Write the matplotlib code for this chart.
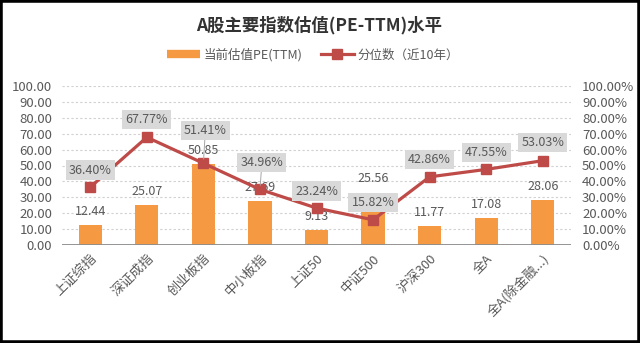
import matplotlib
matplotlib.use("Agg")
import matplotlib.pyplot as plt
from matplotlib.patches import Rectangle
from matplotlib.lines import Line2D
from matplotlib.ticker import FuncFormatter, MultipleLocator

plt.rcParams['font.family'] = ['Noto Sans CJK SC', 'DejaVu Sans']

categories = ['上证综指', '深证成指', '创业板指', '中小板指', '上证50', '中证500', '沪深300', '全A', '全A(除金融...)']
pe_values = [12.44, 25.07, 50.85, 27.69, 9.13, 25.56, 11.77, 17.08, 28.06]
pct_values = [36.40, 67.77, 51.41, 34.96, 23.24, 15.82, 42.86, 47.55, 53.03]
title = 'A股主要指数估值(PE-TTM)水平'
legend_labels = ['当前估值PE(TTM)', '分位数（近10年）']

bar_color = '#F59A43'
line_color = '#BE4B48'
text_color = '#595959'

W, H = 640, 343
fig = plt.figure(figsize=(W / 100, H / 100), dpi=100)
ax = fig.add_axes([62 / W, 98 / H, (571 - 62) / W, 159 / H])
ax2 = ax.twinx()

x = list(range(len(categories)))
ax.bar(x, pe_values, width=0.41, color=bar_color, zorder=2)
ax.set_xlim(-0.5, len(categories) - 0.5)
ax.set_ylim(0, 100)
ax2.set_ylim(0, 100)
ax.yaxis.set_major_locator(MultipleLocator(10))
ax2.yaxis.set_major_locator(MultipleLocator(10))
ax.yaxis.set_major_formatter(FuncFormatter(lambda v, p: f'{v:.2f}'))
ax2.yaxis.set_major_formatter(FuncFormatter(lambda v, p: f'{v:.2f}%'))

ax.grid(axis='y', color='#D0D0D0', linestyle=(0, (2, 2)), linewidth=0.8, zorder=0)
ax.set_axisbelow(True)

for a in (ax, ax2):
    for s in ('top', 'left', 'right', 'bottom'):
        a.spines[s].set_visible(False)
ax.axhline(0, color='#8C8C8C', lw=1.3, zorder=3)

ax.tick_params(axis='y', length=0, pad=7, labelsize=9.5, labelcolor=text_color)
ax2.tick_params(axis='y', length=0, pad=8, labelsize=9.5, labelcolor=text_color)
ax.set_xticks(x)
ax.set_xticklabels(categories, rotation=45, ha='right', va='top', rotation_mode='anchor',
                   fontsize=9.5, color=text_color)
ax.tick_params(axis='x', length=0, pad=5)

ax2.plot(x, pct_values, color=line_color, lw=2.3, marker='s', markersize=6.5, zorder=3)

# bar value labels
bar_offsets = {5: (0, 26)}
for i, v in enumerate(pe_values):
    dx, dy = bar_offsets.get(i, (0, 13.5))
    kw = {}
    if i in bar_offsets:
        kw['arrowprops'] = dict(arrowstyle='-', color='#A6A6A6', lw=0.7, shrinkA=6, shrinkB=12)
    ax.annotate(f'{v:.2f}', xy=(i, v), xytext=(dx, dy), textcoords='offset pixels',
                ha='center', va='center', fontsize=9, color=text_color, zorder=4, **kw)

# percentile labels
pct_offsets = {1: (0, 18), 2: (2, 33), 3: (2, 27), 8: (0, 18)}
for i, v in enumerate(pct_values):
    dx, dy = pct_offsets.get(i, (0, 17))
    kw = {}
    if i in (2, 3):
        kw['arrowprops'] = dict(arrowstyle='-', color='#A6A6A6', lw=0.7, shrinkA=0, shrinkB=3)
    ax2.annotate(f'{v:.2f}%', xy=(i, v), xytext=(dx, dy), textcoords='offset pixels',
                 ha='center', va='center', fontsize=9, color=text_color, zorder=5,
                 bbox=dict(boxstyle='square,pad=0.25', fc='#D9D9D9', ec='none'), **kw)

fig.text(319 / W, 1 - 25 / H, title, ha='center', va='center', fontsize=12.5,
         fontweight='bold', color='#333333')

handles = [Line2D([0], [0], color=bar_color, lw=6, solid_capstyle='butt'),
           Line2D([0], [0], color=line_color, lw=2.3, marker='s', markersize=6.5)]
fig.legend(handles, legend_labels, loc='center', bbox_to_anchor=(313 / W, 1 - 55 / H),
           ncol=2, frameon=False, fontsize=9, labelcolor=text_color,
           handlelength=2.6, handletextpad=0.3, columnspacing=1.5)

fig.patches.append(Rectangle((0, 0), 1, 1, transform=fig.transFigure, fill=False,
                             ec='black', lw=4, zorder=10))

fig.savefig('out.png', dpi=100)
